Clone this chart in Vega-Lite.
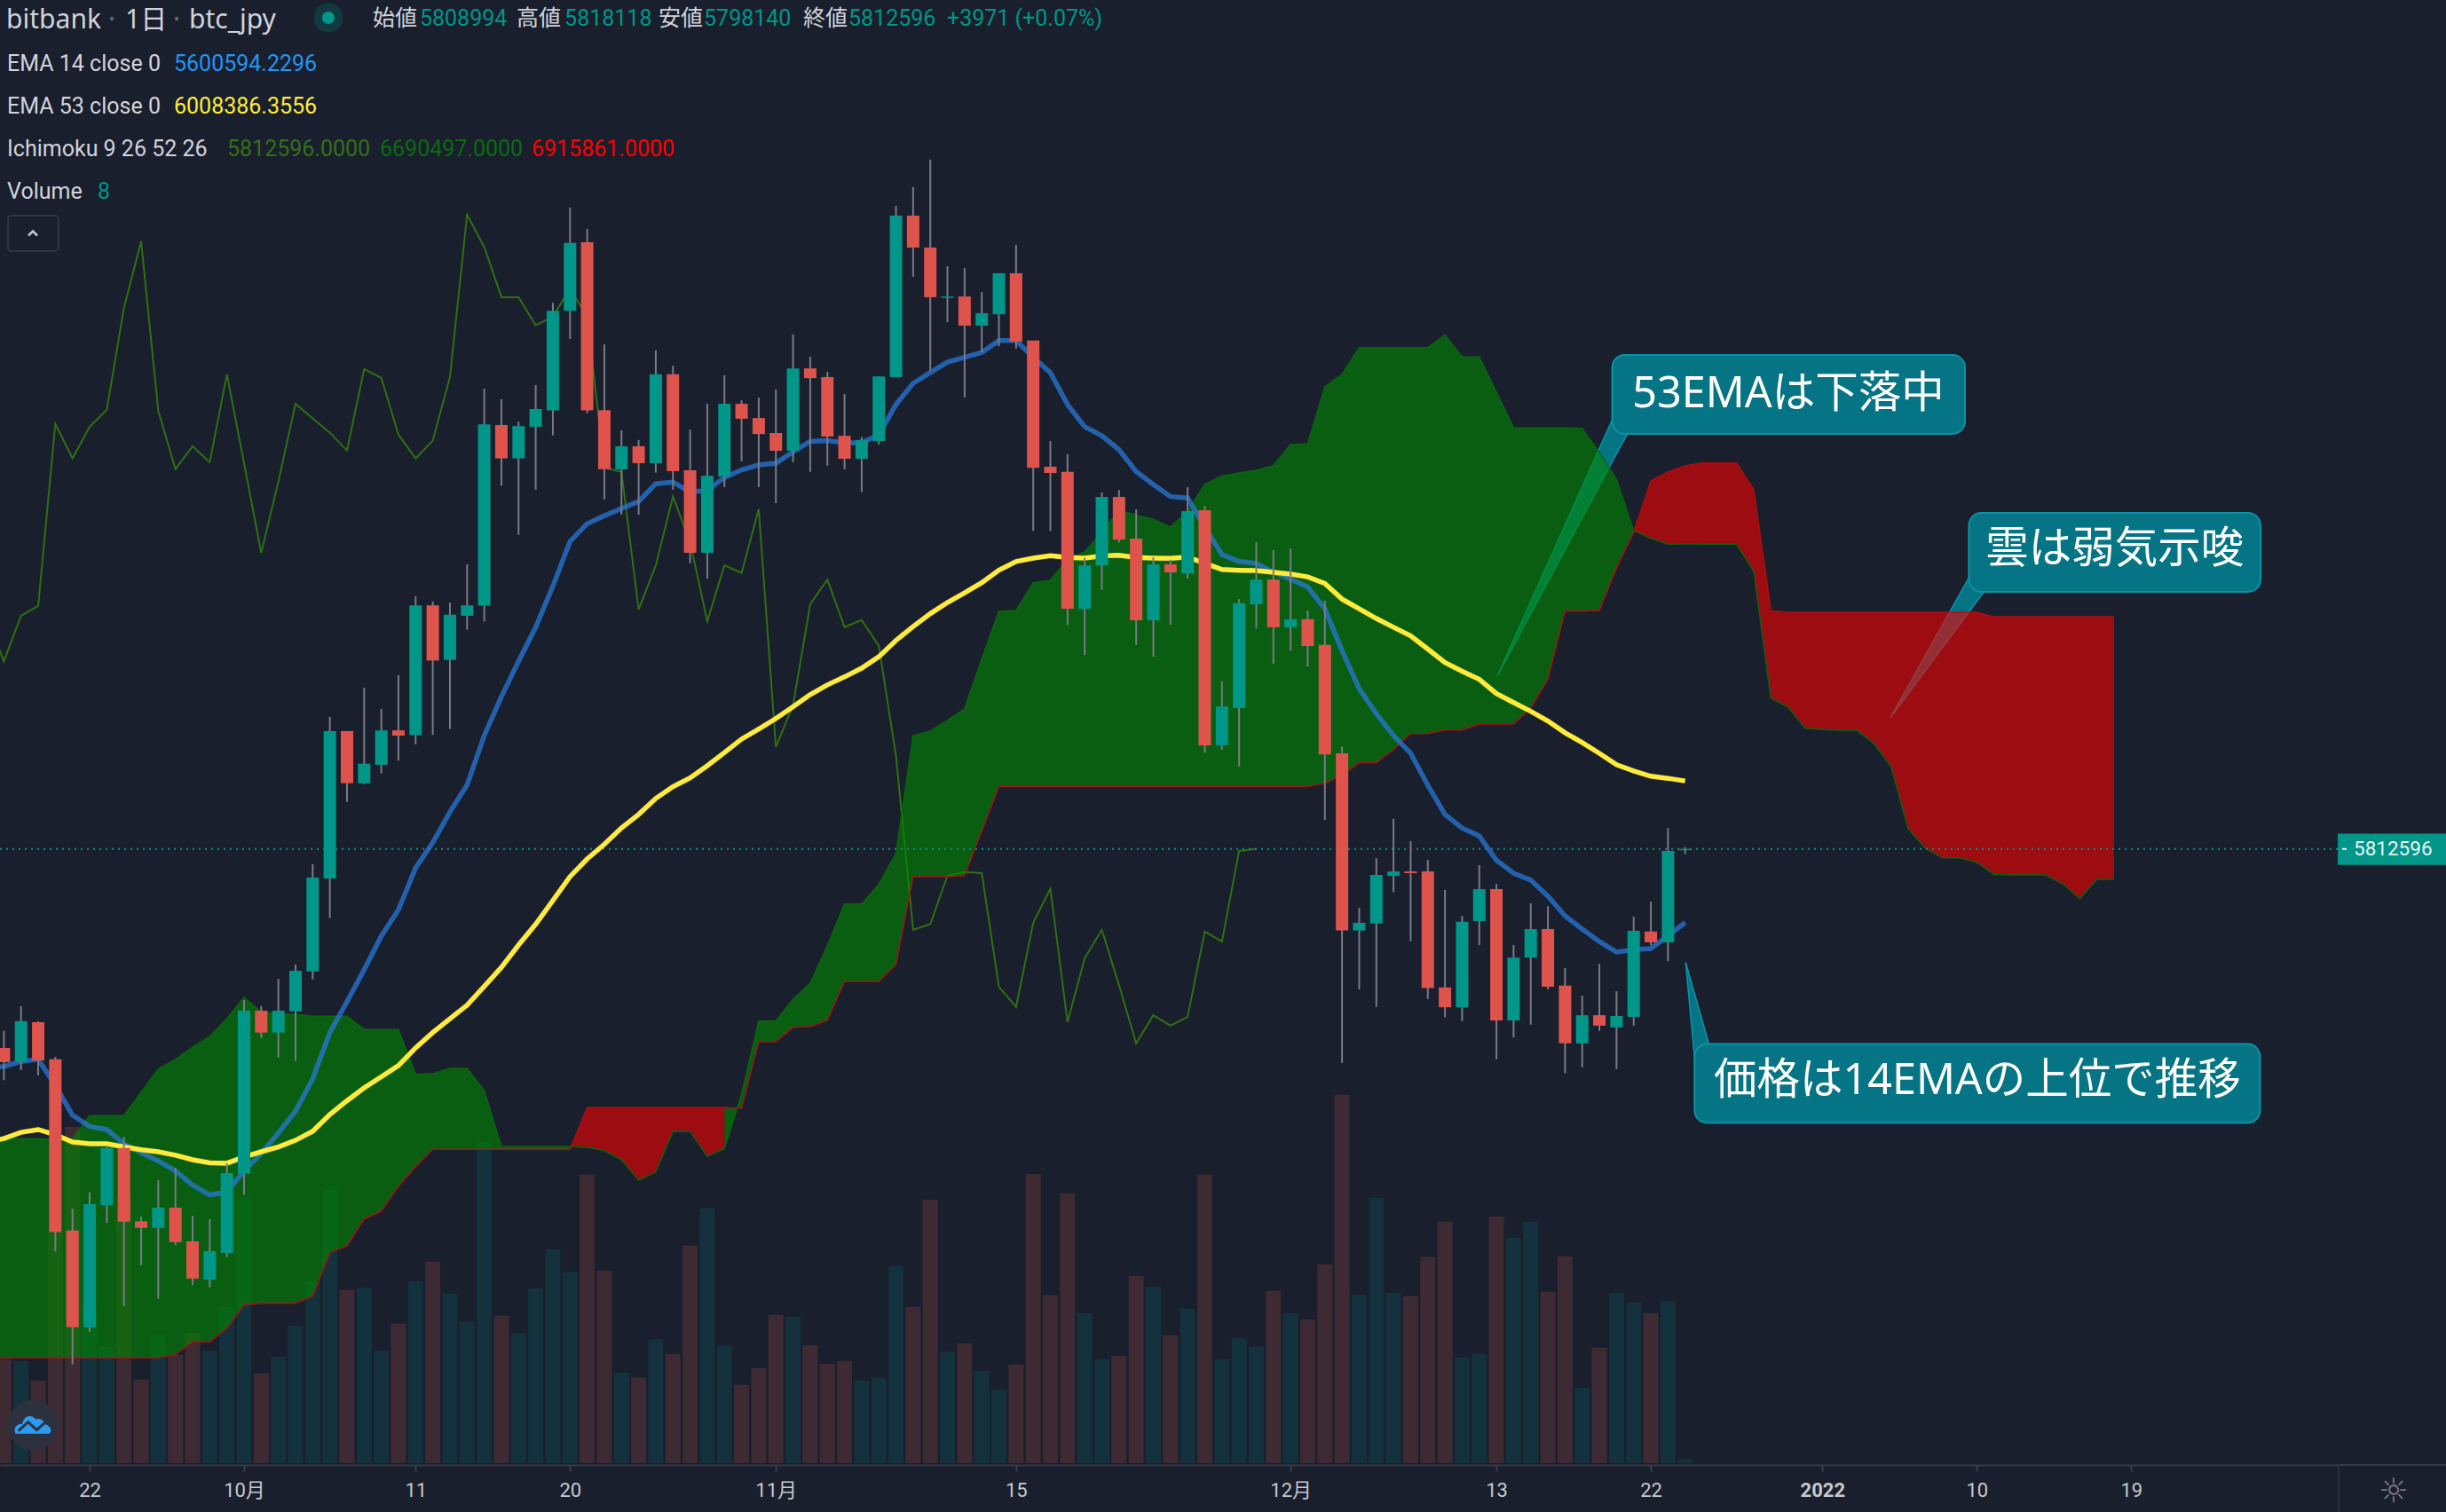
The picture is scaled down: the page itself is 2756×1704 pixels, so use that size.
{"$schema":"https://vega.github.io/schema/vega-lite/v6.json","width":2635,"height":1651,"autosize":{"type":"none"},"padding":{"left":0,"top":0,"right":121,"bottom":53},"background":"#191f2c","config":{"view":{"stroke":null}},
"datasets":{"daily":[
{"date":"2021-09-16","ema14":5183000,"ema53":4969000,"chikou":6480000},
{"date":"2021-09-17","open":5240000,"high":5289000,"low":5147000,"close":5199000,"volume":218,"ema14":5186000,"ema53":4979000,"chikou":6353000},
{"date":"2021-09-18","open":5201000,"high":5360000,"low":5176000,"close":5317000,"volume":214,"ema14":5201000,"ema53":4997000,"chikou":6484000},
{"date":"2021-09-19","open":5314000,"high":5317000,"low":5161000,"close":5204000,"volume":173,"ema14":5207000,"ema53":5005000,"chikou":6512000},
{"date":"2021-09-20","open":5207000,"high":5214000,"low":4654000,"close":4710000,"volume":484,"ema14":5132000,"ema53":4990000,"chikou":7036000},
{"date":"2021-09-21","open":4714000,"high":4777000,"low":4329000,"close":4436000,"volume":705,"ema14":5046000,"ema53":4969000,"chikou":6937000},
{"date":"2021-09-22","open":4436000,"high":4824000,"low":4423000,"close":4790000,"volume":329,"ema14":5014000,"ema53":4964000,"chikou":7028000},
{"date":"2021-09-23","open":4788000,"high":4958000,"low":4736000,"close":4952000,"volume":244,"ema14":5005000,"ema53":4964000,"chikou":7077000},
{"date":"2021-09-24","open":4952000,"high":4984000,"low":4497000,"close":4740000,"volume":562,"ema14":4964000,"ema53":4955000,"chikou":7371000},
{"date":"2021-09-25","open":4741000,"high":4754000,"low":4614000,"close":4722000,"volume":175,"ema14":4938000,"ema53":4947000,"chikou":7562000},
{"date":"2021-09-26","open":4722000,"high":4859000,"low":4517000,"close":4780000,"volume":268,"ema14":4915000,"ema53":4941000,"chikou":7074000},
{"date":"2021-09-27","open":4780000,"high":4895000,"low":4672000,"close":4681000,"volume":227,"ema14":4886000,"ema53":4931000,"chikou":6906000},
{"date":"2021-09-28","open":4683000,"high":4757000,"low":4558000,"close":4576000,"volume":272,"ema14":4845000,"ema53":4918000,"chikou":6972000},
{"date":"2021-09-29","open":4573000,"high":4747000,"low":4551000,"close":4655000,"volume":236,"ema14":4817000,"ema53":4909000,"chikou":6926000},
{"date":"2021-09-30","open":4650000,"high":4908000,"low":4637000,"close":4880000,"volume":327,"ema14":4825000,"ema53":4908000,"chikou":7179000},
{"date":"2021-10-01","open":4878000,"high":5378000,"low":4817000,"close":5347000,"volume":558,"ema14":4886000,"ema53":4926000,"chikou":6923000},
{"date":"2021-10-02","open":5347000,"high":5361000,"low":5269000,"close":5284000,"volume":188,"ema14":4936000,"ema53":4941000,"chikou":6665000},
{"date":"2021-10-03","open":5284000,"high":5439000,"low":5212000,"close":5347000,"volume":223,"ema14":4995000,"ema53":4955000,"chikou":6870000},
{"date":"2021-10-04","open":5345000,"high":5480000,"low":5203000,"close":5462000,"volume":288,"ema14":5058000,"ema53":4974000,"chikou":7094000},
{"date":"2021-10-05","open":5460000,"high":5769000,"low":5437000,"close":5730000,"volume":381,"ema14":5151000,"ema53":5000000,"chikou":7052000},
{"date":"2021-10-06","open":5728000,"high":6193000,"low":5614000,"close":6152000,"volume":573,"ema14":5284000,"ema53":5048000,"chikou":7011000},
{"date":"2021-10-07","open":6152000,"high":6152000,"low":5948000,"close":6002000,"volume":363,"ema14":5373000,"ema53":5088000,"chikou":6960000},
{"date":"2021-10-08","open":6002000,"high":6277000,"low":5999000,"close":6058000,"volume":368,"ema14":5465000,"ema53":5125000,"chikou":7194000},
{"date":"2021-10-09","open":6055000,"high":6216000,"low":6030000,"close":6154000,"volume":236,"ema14":5562000,"ema53":5157000,"chikou":7169000},
{"date":"2021-10-10","open":6154000,"high":6313000,"low":6067000,"close":6139000,"volume":292,"ema14":5638000,"ema53":5189000,"chikou":7005000},
{"date":"2021-10-11","open":6140000,"high":6540000,"low":6114000,"close":6514000,"volume":381,"ema14":5758000,"ema53":5240000,"chikou":6937000},
{"date":"2021-10-12","open":6514000,"high":6525000,"low":6141000,"close":6355000,"volume":422,"ema14":5831000,"ema53":5284000,"chikou":6988000},
{"date":"2021-10-13","open":6357000,"high":6522000,"low":6158000,"close":6487000,"volume":355,"ema14":5919000,"ema53":5324000,"chikou":7171000},
{"date":"2021-10-14","open":6484000,"high":6632000,"low":6444000,"close":6514000,"volume":296,"ema14":5997000,"ema53":5363000,"chikou":7638000},
{"date":"2021-10-15","open":6513000,"high":7138000,"low":6467000,"close":7035000,"volume":673,"ema14":6139000,"ema53":5417000,"chikou":7546000},
{"date":"2021-10-16","open":7033000,"high":7107000,"low":6858000,"close":6937000,"volume":309,"ema14":6251000,"ema53":5472000,"chikou":7401000},
{"date":"2021-10-17","open":6937000,"high":7043000,"low":6717000,"close":7030000,"volume":272,"ema14":6353000,"ema53":5536000,"chikou":7401000},
{"date":"2021-10-18","open":7028000,"high":7148000,"low":6847000,"close":7079000,"volume":366,"ema14":6451000,"ema53":5596000,"chikou":7320000},
{"date":"2021-10-19","open":7075000,"high":7385000,"low":7003000,"close":7362000,"volume":448,"ema14":6569000,"ema53":5664000,"chikou":7345000},
{"date":"2021-10-20","open":7362000,"high":7659000,"low":7281000,"close":7557000,"volume":400,"ema14":6698000,"ema53":5733000,"chikou":7426000},
{"date":"2021-10-21","open":7559000,"high":7598000,"low":7067000,"close":7075000,"volume":605,"ema14":6749000,"ema53":5784000,"chikou":7345000},
{"date":"2021-10-22","open":7076000,"high":7265000,"low":6819000,"close":6906000,"volume":404,"ema14":6772000,"ema53":5826000,"chikou":6910000},
{"date":"2021-10-23","open":6905000,"high":7018000,"low":6775000,"close":6972000,"volume":190,"ema14":6793000,"ema53":5873000,"chikou":6898000},
{"date":"2021-10-24","open":6972000,"high":6990000,"low":6775000,"close":6923000,"volume":179,"ema14":6813000,"ema53":5912000,"chikou":6502000},
{"date":"2021-10-25","open":6923000,"high":7248000,"low":6896000,"close":7179000,"volume":259,"ema14":6864000,"ema53":5958000,"chikou":6629000},
{"date":"2021-10-26","open":7179000,"high":7204000,"low":6847000,"close":6900000,"volume":229,"ema14":6869000,"ema53":5992000,"chikou":6827000},
{"date":"2021-10-27","open":6903000,"high":7020000,"low":6635000,"close":6665000,"volume":456,"ema14":6840000,"ema53":6017000,"chikou":6696000},
{"date":"2021-10-28","open":6665000,"high":7094000,"low":6591000,"close":6887000,"volume":534,"ema14":6845000,"ema53":6052000,"chikou":6468000},
{"date":"2021-10-29","open":6885000,"high":7176000,"low":6854000,"close":7094000,"volume":246,"ema14":6882000,"ema53":6090000,"chikou":6629000},
{"date":"2021-10-30","open":7094000,"high":7104000,"low":6928000,"close":7051000,"volume":164,"ema14":6904000,"ema53":6129000,"chikou":6607000},
{"date":"2021-10-31","open":7053000,"high":7112000,"low":6854000,"close":7007000,"volume":199,"ema14":6918000,"ema53":6158000,"chikou":6791000},
{"date":"2021-11-01","open":7010000,"high":7135000,"low":6808000,"close":6959000,"volume":311,"ema14":6923000,"ema53":6188000,"chikou":6106000},
{"date":"2021-11-02","open":6959000,"high":7294000,"low":6926000,"close":7196000,"volume":307,"ema14":6956000,"ema53":6222000,"chikou":6226000},
{"date":"2021-11-03","open":7196000,"high":7230000,"low":6898000,"close":7168000,"volume":247,"ema14":6986000,"ema53":6257000,"chikou":6517000},
{"date":"2021-11-04","open":7171000,"high":7186000,"low":6916000,"close":7000000,"volume":208,"ema14":6988000,"ema53":6285000,"chikou":6588000},
{"date":"2021-11-05","open":7002000,"high":7122000,"low":6905000,"close":6936000,"volume":214,"ema14":6982000,"ema53":6308000,"chikou":6451000},
{"date":"2021-11-06","open":6936000,"high":6999000,"low":6840000,"close":6990000,"volume":173,"ema14":6982000,"ema53":6333000,"chikou":6472000},
{"date":"2021-11-07","open":6987000,"high":7173000,"low":6977000,"close":7173000,"volume":179,"ema14":7005000,"ema53":6366000,"chikou":6397000},
{"date":"2021-11-08","open":7171000,"high":7664000,"low":7171000,"close":7636000,"volume":413,"ema14":7092000,"ema53":6413000,"chikou":6081000},
{"date":"2021-11-09","open":7636000,"high":7718000,"low":7460000,"close":7544000,"volume":327,"ema14":7153000,"ema53":6453000,"chikou":5580000},
{"date":"2021-11-10","open":7544000,"high":7797000,"low":7189000,"close":7401000,"volume":552,"ema14":7184000,"ema53":6490000,"chikou":5596000},
{"date":"2021-11-11","open":7399000,"high":7490000,"low":7329000,"close":7403000,"volume":233,"ema14":7214000,"ema53":6522000,"chikou":5736000},
{"date":"2021-11-12","open":7403000,"high":7485000,"low":7112000,"close":7319000,"volume":251,"ema14":7228000,"ema53":6550000,"chikou":5746000},
{"date":"2021-11-13","open":7319000,"high":7416000,"low":7242000,"close":7355000,"volume":193,"ema14":7242000,"ema53":6579000,"chikou":5743000},
{"date":"2021-11-14","open":7352000,"high":7470000,"low":7260000,"close":7470000,"volume":153,"ema14":7276000,"ema53":6615000,"chikou":5416000},
{"date":"2021-11-15","open":7470000,"high":7552000,"low":7253000,"close":7273000,"volume":206,"ema14":7276000,"ema53":6640000,"chikou":5358000},
{"date":"2021-11-16","open":7276000,"high":7276000,"low":6728000,"close":6910000,"volume":606,"ema14":7228000,"ema53":6650000,"chikou":5600000},
{"date":"2021-11-17","open":6913000,"high":6987000,"low":6728000,"close":6895000,"volume":352,"ema14":7184000,"ema53":6657000,"chikou":5698000},
{"date":"2021-11-18","open":6898000,"high":6949000,"low":6457000,"close":6504000,"volume":565,"ema14":7092000,"ema53":6652000,"chikou":5314000},
{"date":"2021-11-19","open":6504000,"high":6650000,"low":6371000,"close":6629000,"volume":314,"ema14":7028000,"ema53":6650000,"chikou":5498000},
{"date":"2021-11-20","open":6629000,"high":6839000,"low":6558000,"close":6826000,"volume":218,"ema14":7002000,"ema53":6656000,"chikou":5580000},
{"date":"2021-11-21","open":6826000,"high":6846000,"low":6694000,"close":6703000,"volume":225,"ema14":6962000,"ema53":6658000,"chikou":5421000},
{"date":"2021-11-22","open":6706000,"high":6790000,"low":6400000,"close":6471000,"volume":392,"ema14":6899000,"ema53":6652000,"chikou":5253000},
{"date":"2021-11-23","open":6471000,"high":6652000,"low":6366000,"close":6632000,"volume":370,"ema14":6862000,"ema53":6650000,"chikou":5334000},
{"date":"2021-11-24","open":6632000,"high":6645000,"low":6458000,"close":6609000,"volume":268,"ema14":6827000,"ema53":6649000,"chikou":5304000},
{"date":"2021-11-25","open":6606000,"high":6854000,"low":6591000,"close":6785000,"volume":324,"ema14":6823000,"ema53":6653000,"chikou":5329000},
{"date":"2021-11-26","open":6788000,"high":6800000,"low":6090000,"close":6111000,"volume":605,"ema14":6739000,"ema53":6635000,"chikou":5575000},
{"date":"2021-11-27","open":6111000,"high":6295000,"low":6099000,"close":6223000,"volume":218,"ema14":6660000,"ema53":6617000,"chikou":5546000},
{"date":"2021-11-28","open":6218000,"high":6532000,"low":6050000,"close":6520000,"volume":262,"ema14":6640000,"ema53":6615000,"chikou":5807000},
{"date":"2021-11-29","open":6517000,"high":6696000,"low":6447000,"close":6588000,"volume":244,"ema14":6635000,"ema53":6614000,"chikou":5812596},
{"date":"2021-11-30","open":6588000,"high":6673000,"low":6346000,"close":6451000,"volume":361,"ema14":6610000,"ema53":6609000},
{"date":"2021-12-01","open":6451000,"high":6678000,"low":6383000,"close":6474000,"volume":314,"ema14":6589000,"ema53":6604000},
{"date":"2021-12-02","open":6474000,"high":6499000,"low":6338000,"close":6397000,"volume":301,"ema14":6567000,"ema53":6596000},
{"date":"2021-12-03","open":6400000,"high":6527000,"low":5896000,"close":6085000,"volume":417,"ema14":6504000,"ema53":6577000},
{"date":"2021-12-04","open":6088000,"high":6108000,"low":5197000,"close":5578000,"volume":772,"ema14":6384000,"ema53":6532000},
{"date":"2021-12-05","open":5578000,"high":5643000,"low":5408000,"close":5600000,"volume":353,"ema14":6274000,"ema53":6504000},
{"date":"2021-12-06","open":5598000,"high":5786000,"low":5358000,"close":5738000,"volume":556,"ema14":6202000,"ema53":6476000},
{"date":"2021-12-07","open":5735000,"high":5899000,"low":5688000,"close":5748000,"volume":357,"ema14":6139000,"ema53":6451000},
{"date":"2021-12-08","open":5748000,"high":5835000,"low":5547000,"close":5743000,"volume":350,"ema14":6088000,"ema53":6426000},
{"date":"2021-12-09","open":5748000,"high":5781000,"low":5381000,"close":5412000,"volume":432,"ema14":5996000,"ema53":6388000},
{"date":"2021-12-10","open":5414000,"high":5695000,"low":5328000,"close":5357000,"volume":506,"ema14":5912000,"ema53":6349000},
{"date":"2021-12-11","open":5357000,"high":5620000,"low":5317000,"close":5603000,"volume":221,"ema14":5873000,"ema53":6324000},
{"date":"2021-12-12","open":5605000,"high":5766000,"low":5536000,"close":5697000,"volume":229,"ema14":5850000,"ema53":6301000},
{"date":"2021-12-13","open":5697000,"high":5712000,"low":5207000,"close":5319000,"volume":517,"ema14":5780000,"ema53":6260000},
{"date":"2021-12-14","open":5319000,"high":5536000,"low":5270000,"close":5500000,"volume":472,"ema14":5743000,"ema53":6234000},
{"date":"2021-12-15","open":5500000,"high":5656000,"low":5307000,"close":5582000,"volume":506,"ema14":5723000,"ema53":6209000},
{"date":"2021-12-16","open":5582000,"high":5648000,"low":5408000,"close":5416000,"volume":359,"ema14":5677000,"ema53":6181000},
{"date":"2021-12-17","open":5419000,"high":5470000,"low":5167000,"close":5253000,"volume":433,"ema14":5620000,"ema53":6147000},
{"date":"2021-12-18","open":5253000,"high":5390000,"low":5184000,"close":5334000,"volume":158,"ema14":5582000,"ema53":6119000},
{"date":"2021-12-19","open":5334000,"high":5482000,"low":5289000,"close":5304000,"volume":242,"ema14":5546000,"ema53":6088000},
{"date":"2021-12-20","open":5299000,"high":5403000,"low":5179000,"close":5332000,"volume":357,"ema14":5516000,"ema53":6055000},
{"date":"2021-12-21","open":5329000,"high":5618000,"low":5304000,"close":5577000,"volume":337,"ema14":5523000,"ema53":6037000},
{"date":"2021-12-22","open":5575000,"high":5661000,"low":5536000,"close":5544000,"volume":314,"ema14":5526000,"ema53":6022000},
{"date":"2021-12-23","open":5544000,"high":5873000,"low":5490000,"close":5807000,"volume":339,"ema14":5563000,"ema53":6016000},
{"date":"2021-12-24","open":5808994,"high":5818118,"low":5798140,"close":5812596,"volume":8,"ema14":5600594,"ema53":6008386}
],
"cloud":[
{"date":"2021-09-16","spanA":4979000,"spanB":4348000,"seg":"g1"},{"date":"2021-09-17","spanA":4979000,"spanB":4348000,"seg":"g1"},{"date":"2021-09-18","spanA":4979000,"spanB":4348000,"seg":"g1"},{"date":"2021-09-19","spanA":4979000,"spanB":4348000,"seg":"g1"},{"date":"2021-09-20","spanA":4977000,"spanB":4348000,"seg":"g1"},{"date":"2021-09-21","spanA":4979000,"spanB":4348000,"seg":"g1"},{"date":"2021-09-22","spanA":5045000,"spanB":4348000,"seg":"g1"},{"date":"2021-09-23","spanA":5045000,"spanB":4348000,"seg":"g1"},{"date":"2021-09-24","spanA":5045000,"spanB":4348000,"seg":"g1"},{"date":"2021-09-25","spanA":5112000,"spanB":4348000,"seg":"g1"},{"date":"2021-09-26","spanA":5179000,"spanB":4348000,"seg":"g1"},{"date":"2021-09-27","spanA":5207000,"spanB":4357000,"seg":"g1"},{"date":"2021-09-28","spanA":5242000,"spanB":4394000,"seg":"g1"},{"date":"2021-09-29","spanA":5273000,"spanB":4394000,"seg":"g1"},{"date":"2021-09-30","spanA":5324000,"spanB":4433000,"seg":"g1"},{"date":"2021-10-01","spanA":5385000,"spanB":4500000,"seg":"g1"},{"date":"2021-10-02","spanA":5344000,"spanB":4505000,"seg":"g1"},{"date":"2021-10-03","spanA":5338000,"spanB":4505000,"seg":"g1"},{"date":"2021-10-04","spanA":5337000,"spanB":4505000,"seg":"g1"},{"date":"2021-10-05","spanA":5331000,"spanB":4525000,"seg":"g1"},{"date":"2021-10-06","spanA":5331000,"spanB":4650000,"seg":"g1"},{"date":"2021-10-07","spanA":5331000,"spanB":4670000,"seg":"g1"},{"date":"2021-10-08","spanA":5293000,"spanB":4747000,"seg":"g1"},{"date":"2021-10-09","spanA":5293000,"spanB":4770000,"seg":"g1"},{"date":"2021-10-10","spanA":5293000,"spanB":4841000,"seg":"g1"},{"date":"2021-10-11","spanA":5164000,"spanB":4898000,"seg":"g1"},{"date":"2021-10-12","spanA":5166000,"spanB":4948000,"seg":"g1"},{"date":"2021-10-13","spanA":5181000,"spanB":4948000,"seg":"g1"},{"date":"2021-10-14","spanA":5181000,"spanB":4948000,"seg":"g1"},{"date":"2021-10-15","spanA":5117000,"spanB":4948000,"seg":"g1"},{"date":"2021-10-16","spanA":4956000,"spanB":4948000,"seg":"g1"},{"date":"2021-10-17","spanA":4956000,"spanB":4948000,"seg":"g1"},{"date":"2021-10-18","spanA":4956000,"spanB":4948000,"seg":"g1"},{"date":"2021-10-19","spanA":4956000,"spanB":4948000,"seg":"g1"},{"date":"2021-10-20","spanA":4956000,"spanB":4948000,"seg":"g1"},
{"date":"2021-10-20","spanA":4956000,"spanB":4948000,"seg":"r1"},{"date":"2021-10-21","spanA":4954000,"spanB":5068000,"seg":"r1"},{"date":"2021-10-22","spanA":4944000,"spanB":5068000,"seg":"r1"},{"date":"2021-10-23","spanA":4918000,"spanB":5068000,"seg":"r1"},{"date":"2021-10-24","spanA":4859000,"spanB":5068000,"seg":"r1"},{"date":"2021-10-25","spanA":4883000,"spanB":5068000,"seg":"r1"},{"date":"2021-10-26","spanA":5000000,"spanB":5068000,"seg":"r1"},{"date":"2021-10-27","spanA":5000000,"spanB":5068000,"seg":"r1"},{"date":"2021-10-28","spanA":4928000,"spanB":5068000,"seg":"r1"},{"date":"2021-10-29","spanA":4950000,"spanB":5068000,"seg":"r1"},
{"date":"2021-10-29","spanA":4950000,"spanB":5068000,"seg":"g2"},{"date":"2021-10-30","spanA":5107000,"spanB":5066000,"seg":"g2"},{"date":"2021-10-31","spanA":5317000,"spanB":5258000,"seg":"g2"},{"date":"2021-11-01","spanA":5317000,"spanB":5258000,"seg":"g2"},{"date":"2021-11-02","spanA":5380000,"spanB":5299000,"seg":"g2"},{"date":"2021-11-03","spanA":5426000,"spanB":5301000,"seg":"g2"},{"date":"2021-11-04","spanA":5534000,"spanB":5319000,"seg":"g2"},{"date":"2021-11-05","spanA":5654000,"spanB":5431000,"seg":"g2"},{"date":"2021-11-06","spanA":5654000,"spanB":5431000,"seg":"g2"},{"date":"2021-11-07","spanA":5711000,"spanB":5431000,"seg":"g2"},{"date":"2021-11-08","spanA":5800000,"spanB":5480000,"seg":"g2"},{"date":"2021-11-09","spanA":6139000,"spanB":5733000,"seg":"g2"},{"date":"2021-11-10","spanA":6152000,"spanB":5733000,"seg":"g2"},{"date":"2021-11-11","spanA":6183000,"spanB":5733000,"seg":"g2"},{"date":"2021-11-12","spanA":6216000,"spanB":5736000,"seg":"g2"},{"date":"2021-11-13","spanA":6359000,"spanB":5864000,"seg":"g2"},{"date":"2021-11-14","spanA":6497000,"spanB":5992000,"seg":"g2"},{"date":"2021-11-15","spanA":6499000,"spanB":5992000,"seg":"g2"},{"date":"2021-11-16","spanA":6579000,"spanB":5992000,"seg":"g2"},{"date":"2021-11-17","spanA":6586000,"spanB":5992000,"seg":"g2"},{"date":"2021-11-18","spanA":6647000,"spanB":5992000,"seg":"g2"},{"date":"2021-11-19","spanA":6668000,"spanB":5992000,"seg":"g2"},{"date":"2021-11-20","spanA":6724000,"spanB":5992000,"seg":"g2"},{"date":"2021-11-21","spanA":6788000,"spanB":5992000,"seg":"g2"},{"date":"2021-11-22","spanA":6774000,"spanB":5992000,"seg":"g2"},{"date":"2021-11-23","spanA":6762000,"spanB":5992000,"seg":"g2"},{"date":"2021-11-24","spanA":6739000,"spanB":5992000,"seg":"g2"},{"date":"2021-11-25","spanA":6785000,"spanB":5992000,"seg":"g2"},{"date":"2021-11-26","spanA":6862000,"spanB":5992000,"seg":"g2"},{"date":"2021-11-27","spanA":6886000,"spanB":5992000,"seg":"g2"},{"date":"2021-11-28","spanA":6895000,"spanB":5992000,"seg":"g2"},{"date":"2021-11-29","spanA":6903000,"spanB":5992000,"seg":"g2"},{"date":"2021-11-30","spanA":6916000,"spanB":5992000,"seg":"g2"},{"date":"2021-12-01","spanA":6977000,"spanB":5992000,"seg":"g2"},{"date":"2021-12-02","spanA":6979000,"spanB":5992000,"seg":"g2"},{"date":"2021-12-03","spanA":7143000,"spanB":6002000,"seg":"g2"},{"date":"2021-12-04","spanA":7179000,"spanB":6024000,"seg":"g2"},{"date":"2021-12-05","spanA":7256000,"spanB":6061000,"seg":"g2"},{"date":"2021-12-06","spanA":7256000,"spanB":6061000,"seg":"g2"},{"date":"2021-12-07","spanA":7256000,"spanB":6098000,"seg":"g2"},{"date":"2021-12-08","spanA":7256000,"spanB":6145000,"seg":"g2"},{"date":"2021-12-09","spanA":7256000,"spanB":6145000,"seg":"g2"},{"date":"2021-12-10","spanA":7292000,"spanB":6155000,"seg":"g2"},{"date":"2021-12-11","spanA":7229000,"spanB":6155000,"seg":"g2"},{"date":"2021-12-12","spanA":7229000,"spanB":6172000,"seg":"g2"},{"date":"2021-12-13","spanA":7128000,"spanB":6172000,"seg":"g2"},{"date":"2021-12-14","spanA":7025000,"spanB":6172000,"seg":"g2"},{"date":"2021-12-15","spanA":7025000,"spanB":6218000,"seg":"g2"},{"date":"2021-12-16","spanA":7025000,"spanB":6302000,"seg":"g2"},{"date":"2021-12-17","spanA":7025000,"spanB":6497000,"seg":"g2"},{"date":"2021-12-18","spanA":7023000,"spanB":6497000,"seg":"g2"},{"date":"2021-12-19","spanA":6954000,"spanB":6499000,"seg":"g2"},{"date":"2021-12-20","spanA":6877000,"spanB":6622000,"seg":"g2"},{"date":"2021-12-21","spanA":6729000,"spanB":6724000,"seg":"g2"},
{"date":"2021-12-21","spanA":6729000,"spanB":6724000,"seg":"r2"},{"date":"2021-12-22","spanA":6707000,"spanB":6872000,"seg":"r2"},{"date":"2021-12-23","spanA":6690000,"spanB":6898000,"seg":"r2"},{"date":"2021-12-24","spanA":6690497,"spanB":6915861,"seg":"r2"},{"date":"2021-12-25","spanA":6690000,"spanB":6924000,"seg":"r2"},{"date":"2021-12-26","spanA":6690000,"spanB":6924000,"seg":"r2"},{"date":"2021-12-27","spanA":6690000,"spanB":6924000,"seg":"r2"},{"date":"2021-12-28","spanA":6611000,"spanB":6847000,"seg":"r2"},{"date":"2021-12-29","spanA":6247000,"spanB":6498000,"seg":"r2"},{"date":"2021-12-30","spanA":6221000,"spanB":6494000,"seg":"r2"},{"date":"2021-12-31","spanA":6160000,"spanB":6494000,"seg":"r2"},{"date":"2022-01-01","spanA":6157000,"spanB":6494000,"seg":"r2"},{"date":"2022-01-02","spanA":6154000,"spanB":6494000,"seg":"r2"},{"date":"2022-01-03","spanA":6154000,"spanB":6494000,"seg":"r2"},{"date":"2022-01-04","spanA":6117000,"spanB":6494000,"seg":"r2"},{"date":"2022-01-05","spanA":6050000,"spanB":6494000,"seg":"r2"},{"date":"2022-01-06","spanA":5871000,"spanB":6494000,"seg":"r2"},{"date":"2022-01-07","spanA":5815000,"spanB":6494000,"seg":"r2"},{"date":"2022-01-08","spanA":5787000,"spanB":6494000,"seg":"r2"},{"date":"2022-01-09","spanA":5787000,"spanB":6494000,"seg":"r2"},{"date":"2022-01-10","spanA":5774000,"spanB":6494000,"seg":"r2"},{"date":"2022-01-11","spanA":5740000,"spanB":6481000,"seg":"r2"},{"date":"2022-01-12","spanA":5738000,"spanB":6481000,"seg":"r2"},{"date":"2022-01-13","spanA":5738000,"spanB":6481000,"seg":"r2"},{"date":"2022-01-14","spanA":5738000,"spanB":6481000,"seg":"r2"},{"date":"2022-01-15","spanA":5713000,"spanB":6481000,"seg":"r2"},{"date":"2022-01-16","spanA":5670000,"spanB":6481000,"seg":"r2"},{"date":"2022-01-17","spanA":5725000,"spanB":6481000,"seg":"r2"},{"date":"2022-01-18","spanA":5725000,"spanB":6481000,"seg":"r2"}
]},
"encoding":{"x":{"field":"date","type":"temporal","title":null,"scale":{"type":"utc","padding":0,"domain":["2021-09-16T18:34:00Z","2022-01-31T02:10:00Z"]},"axis":{"orient":"bottom","values":["2021-09-22T00:00:00Z","2021-10-01T00:00:00Z","2021-10-11T00:00:00Z","2021-10-20T00:00:00Z","2021-11-01T00:00:00Z","2021-11-15T00:00:00Z","2021-12-01T00:00:00Z","2021-12-13T00:00:00Z","2021-12-22T00:00:00Z","2022-01-01T00:00:00Z","2022-01-10T00:00:00Z","2022-01-19T00:00:00Z"],"labelExpr":"utcdate(datum.value)==1 ? (utcmonth(datum.value)==0 ? '2022' : (utcmonth(datum.value)+1)+'月') : ''+utcdate(datum.value)","labelFont":"Roboto, Noto Sans CJK JP","labelFontSize":22,"labelColor":"#c8c9cc","labelFontWeight":{"condition":{"test":"datum.label=='2022'","value":"bold"},"value":"normal"},"labelPadding":11,"labelOverlap":false,"labelFlush":false,"tickColor":"#3a3f4c","tickSize":7,"tickWidth":2,"domainColor":"#363a45","domainWidth":2,"grid":false}}},
"resolve":{"scale":{"y":"independent"}},
"layer":[
{"data":{"name":"daily"},"mark":{"type":"bar","size":17,"clip":true},"encoding":{"y":{"field":"volume","type":"quantitative","axis":null,"scale":{"domain":[-4,3067],"nice":false}},"color":{"condition":{"test":"datum.close>=datum.open","value":"#14323d"},"value":"#3e2a33"}}},
{"layer":[
{"data":{"name":"daily"},"mark":{"type":"line","color":"#2f7013","strokeWidth":2,"clip":true},"encoding":{"y":{"field":"chikou","type":"quantitative","scale":{"domain":[4039336,8256513],"nice":false,"zero":false},"title":null,"axis":{"orient":"right","values":[4200000,4400000,4600000,4800000,5000000,5200000,5400000,5600000,5800000,6000000,6200000,6400000,6600000,6800000,7000000,7200000,7400000,7600000,7800000,8000000,8200000],"format":"d","labelFont":"Roboto","labelFontSize":22.5,"labelColor":"#c8c9cc","labelPadding":8,"tickSize":9,"tickColor":"#2f3442","tickWidth":2,"domainColor":"#2a2f3c","domainWidth":2,"grid":false,"labelOverlap":false}}}},
{"data":{"values":[{"date":"2021-12-13T01:12:00Z","top":6310136,"bottom":6310136},{"date":"2021-12-19T18:00:00Z","top":7048329,"bottom":6927000},{"date":"2021-12-20T15:07:00Z","top":7007460,"bottom":7007460}]},"mark":{"type":"area","color":"#057484","stroke":"#0a93a8","strokeWidth":1.5},"encoding":{"y":{"field":"top","type":"quantitative","stack":null,"axis":null,"scale":{"domain":[4039336,8256513],"nice":false,"zero":false}},"y2":{"field":"bottom"}}},
{"data":{"values":[{"date":"2022-01-04T23:17:00Z","top":6190851,"bottom":6190851},{"date":"2022-01-09T12:58:00Z","top":6593919,"bottom":6494557},{"date":"2022-01-10T09:50:00Z","top":6552795,"bottom":6552795}]},"mark":{"type":"area","color":"#057484","stroke":"#0a93a8","strokeWidth":1.5},"encoding":{"y":{"field":"top","type":"quantitative","stack":null,"axis":null,"scale":{"domain":[4039336,8256513],"nice":false,"zero":false}},"y2":{"field":"bottom"}}},
{"data":{"values":[{"date":"2021-12-24T00:43:00Z","top":5486630,"bottom":5486630},{"date":"2021-12-24T13:12:00Z","top":5396208,"bottom":5209233},{"date":"2021-12-25T09:22:00Z","top":5251379,"bottom":5251379}]},"mark":{"type":"area","color":"#057484","stroke":"#0a93a8","strokeWidth":1.5},"encoding":{"y":{"field":"top","type":"quantitative","stack":null,"axis":null,"scale":{"domain":[4039336,8256513],"nice":false,"zero":false}},"y2":{"field":"bottom"}}},
{"data":{"name":"cloud"},"transform":[{"filter":"datum.seg==='g1'||datum.seg==='g2'"}],"mark":{"type":"area","color":"#008800","opacity":0.6,"clip":true},"encoding":{"detail":{"field":"seg"},"y":{"field":"spanA","type":"quantitative","stack":null,"axis":null,"scale":{"domain":[4039336,8256513],"nice":false,"zero":false}},"y2":{"field":"spanB"}}},
{"data":{"name":"cloud"},"transform":[{"filter":"datum.seg==='r1'||datum.seg==='r2'"}],"mark":{"type":"area","color":"#f40000","opacity":0.6,"clip":true},"encoding":{"detail":{"field":"seg"},"y":{"field":"spanA","type":"quantitative","stack":null,"axis":null,"scale":{"domain":[4039336,8256513],"nice":false,"zero":false}},"y2":{"field":"spanB"}}},
{"data":{"name":"cloud"},"mark":{"type":"line","color":"#0c6410","strokeWidth":1.5,"clip":true},"encoding":{"detail":{"field":"seg"},"y":{"field":"spanA","type":"quantitative","axis":null,"scale":{"domain":[4039336,8256513],"nice":false,"zero":false}}}},
{"data":{"name":"cloud"},"mark":{"type":"line","color":"#a81014","strokeWidth":1.5,"clip":true},"encoding":{"detail":{"field":"seg"},"y":{"field":"spanB","type":"quantitative","axis":null,"scale":{"domain":[4039336,8256513],"nice":false,"zero":false}}}},
{"data":{"values":[{"date":"2021-09-16T18:34:00Z","end":"2022-01-31T01:00:00Z","price":5812596}]},"mark":{"type":"rule","color":"#009688","strokeWidth":2,"strokeDash":[2,5]},"encoding":{"x2":{"field":"end"},"y":{"field":"price","type":"quantitative","axis":null,"scale":{"domain":[4039336,8256513],"nice":false,"zero":false}}}},
{"data":{"name":"daily"},"mark":{"type":"line","color":"#2878d8","opacity":0.75,"strokeWidth":5.5,"clip":true},"encoding":{"y":{"field":"ema14","type":"quantitative","axis":null,"scale":{"domain":[4039336,8256513],"nice":false,"zero":false}}}},
{"data":{"name":"daily"},"mark":{"type":"line","color":"#ffeb3b","strokeWidth":5.5,"clip":true},"encoding":{"y":{"field":"ema53","type":"quantitative","axis":null,"scale":{"domain":[4039336,8256513],"nice":false,"zero":false}}}},
{"data":{"name":"daily"},"mark":{"type":"rule","color":"#787b86","strokeWidth":2},"encoding":{"y":{"field":"low","type":"quantitative","axis":null,"scale":{"domain":[4039336,8256513],"nice":false,"zero":false}},"y2":{"field":"high"}}},
{"data":{"name":"daily"},"mark":{"type":"bar","size":14,"clip":true},"encoding":{"y":{"field":"open","type":"quantitative","axis":null,"scale":{"domain":[4039336,8256513],"nice":false,"zero":false}},"y2":{"field":"close"},"color":{"condition":{"test":"datum.close>=datum.open","value":"#009688"},"value":"#de544d"}}},
{"data":{"values":[{"date":"2021-12-19T18:00:00Z","end":"2022-01-09T07:26:00Z","top":7234793,"bottom":7007460},{"date":"2022-01-09T12:58:00Z","end":"2022-01-26T12:58:00Z","top":6780128,"bottom":6552795},{"date":"2021-12-24T13:12:00Z","end":"2022-01-26T12:14:00Z","top":5251379,"bottom":5024302}]},"mark":{"type":"bar","color":"#057484","stroke":"#0a93a8","strokeWidth":2,"cornerRadius":14},"encoding":{"x2":{"field":"end"},"y":{"field":"top","type":"quantitative","axis":null,"scale":{"domain":[4039336,8256513],"nice":false,"zero":false}},"y2":{"field":"bottom"}}},
{"data":{"values":[{"date":"2021-12-30T00:29:00Z","price":7122404,"label":"53EMAは下落中"},{"date":"2022-01-18T00:58:00Z","price":6675401,"label":"雲は弱気示唆"},{"date":"2022-01-10T00:43:00Z","price":5145000,"label":"価格は14EMAの上位で推移"}]},"mark":{"type":"text","color":"#ffffff","font":"Noto Sans, Noto Sans CJK JP","fontSize":48.5,"align":"center","baseline":"middle"},"encoding":{"text":{"field":"label"},"y":{"field":"price","type":"quantitative","axis":null,"scale":{"domain":[4039336,8256513],"nice":false,"zero":false}}}},
{"data":{"values":[{"date":"2021-09-17T03:22:00Z","price":8196487,"label":"bitbank"},{"date":"2021-09-24T01:40:00Z","price":8196487,"label":"1日"},{"date":"2021-09-27T19:02:00Z","price":8196487,"label":"btc_jpy"}]},"mark":{"type":"text","color":"#d1d4dc","font":"Noto Sans, Noto Sans CJK JP","fontSize":30,"align":"left","baseline":"middle"},"encoding":{"text":{"field":"label"},"y":{"field":"price","type":"quantitative","axis":null,"scale":{"domain":[4039336,8256513],"nice":false,"zero":false}}}},
{"data":{"values":[{"date":"2021-09-23T02:02:00Z","price":8196487,"label":"·"},{"date":"2021-09-26T20:38:00Z","price":8196487,"label":"·"}]},"mark":{"type":"text","color":"#6a6e78","font":"Noto Sans","fontSize":30,"align":"left","baseline":"middle"},"encoding":{"text":{"field":"label"},"y":{"field":"price","type":"quantitative","axis":null,"scale":{"domain":[4039336,8256513],"nice":false,"zero":false}}}},
{"data":{"values":[{"date":"2021-10-08T12:00:00Z","price":8203383,"label":"始値"},{"date":"2021-10-16T21:07:00Z","price":8203383,"label":"高値"},{"date":"2021-10-25T03:50:00Z","price":8203383,"label":"安値"},{"date":"2021-11-02T14:10:00Z","price":8203383,"label":"終値"},{"date":"2021-09-17T04:34:00Z","price":8071326,"label":"EMA 14 close 0"},{"date":"2021-09-17T04:34:00Z","price":7948720,"label":"EMA 53 close 0"},{"date":"2021-09-17T04:34:00Z","price":7826876,"label":"Ichimoku 9 26 52 26"},{"date":"2021-09-17T04:34:00Z","price":7705300,"label":"Volume"}]},"mark":{"type":"text","color":"#d1d4dc","font":"Roboto, Noto Sans CJK JP","fontSize":25,"align":"left","baseline":"middle"},"encoding":{"text":{"field":"label"},"y":{"field":"price","type":"quantitative","axis":null,"scale":{"domain":[4039336,8256513],"nice":false,"zero":false}}}},
{"data":{"values":[{"date":"2021-10-11T05:46:00Z","price":8203383,"label":"5808994"},{"date":"2021-10-19T16:19:00Z","price":8203383,"label":"5818118"},{"date":"2021-10-27T19:12:00Z","price":8203383,"label":"5798140"},{"date":"2021-11-05T05:31:00Z","price":8203383,"label":"5812596"},{"date":"2021-11-10T23:17:00Z","price":8203383,"label":"+3971 (+0.07%)"},{"date":"2021-09-22T11:08:00Z","price":7705300,"label":"8"}]},"mark":{"type":"text","color":"#009688","font":"Roboto","fontSize":25,"align":"left","baseline":"middle"},"encoding":{"text":{"field":"label"},"y":{"field":"price","type":"quantitative","axis":null,"scale":{"domain":[4039336,8256513],"nice":false,"zero":false}}}},
{"data":{"values":[{"date":"2021-09-26T21:55:00Z","price":8071326,"label":"5600594.2296"}]},"mark":{"type":"text","color":"#2196f3","font":"Roboto","fontSize":25,"align":"left","baseline":"middle"},"encoding":{"text":{"field":"label"},"y":{"field":"price","type":"quantitative","axis":null,"scale":{"domain":[4039336,8256513],"nice":false,"zero":false}}}},
{"data":{"values":[{"date":"2021-09-26T21:55:00Z","price":7948720,"label":"6008386.3556"}]},"mark":{"type":"text","color":"#ffeb3b","font":"Roboto","fontSize":25,"align":"left","baseline":"middle"},"encoding":{"text":{"field":"label"},"y":{"field":"price","type":"quantitative","axis":null,"scale":{"domain":[4039336,8256513],"nice":false,"zero":false}}}},
{"data":{"values":[{"date":"2021-09-30T00:24:00Z","price":7826876,"label":"5812596.0000"}]},"mark":{"type":"text","color":"#33701a","font":"Roboto","fontSize":25,"align":"left","baseline":"middle"},"encoding":{"text":{"field":"label"},"y":{"field":"price","type":"quantitative","axis":null,"scale":{"domain":[4039336,8256513],"nice":false,"zero":false}}}},
{"data":{"values":[{"date":"2021-10-08T21:58:00Z","price":7826876,"label":"6690497.0000"}]},"mark":{"type":"text","color":"#0b6b11","font":"Roboto","fontSize":25,"align":"left","baseline":"middle"},"encoding":{"text":{"field":"label"},"y":{"field":"price","type":"quantitative","axis":null,"scale":{"domain":[4039336,8256513],"nice":false,"zero":false}}}},
{"data":{"values":[{"date":"2021-10-17T18:14:00Z","price":7826876,"label":"6915861.0000"}]},"mark":{"type":"text","color":"#ff0000","font":"Roboto","fontSize":25,"align":"left","baseline":"middle"},"encoding":{"text":{"field":"label"},"y":{"field":"price","type":"quantitative","axis":null,"scale":{"domain":[4039336,8256513],"nice":false,"zero":false}}}},
{"data":{"values":[{"date":"2021-10-05T21:50:00Z","price":8205427}]},"mark":{"type":"point","filled":true,"shape":"circle","size":1100,"color":"#009688","opacity":0.22},"encoding":{"y":{"field":"price","type":"quantitative","axis":null,"scale":{"domain":[4039336,8256513],"nice":false,"zero":false}}}},
{"data":{"values":[{"date":"2021-10-05T21:50:00Z","price":8205427}]},"mark":{"type":"point","filled":true,"shape":"circle","size":200,"color":"#009688","opacity":1},"encoding":{"y":{"field":"price","type":"quantitative","axis":null,"scale":{"domain":[4039336,8256513],"nice":false,"zero":false}}}},
{"data":{"values":[{"date":"2021-09-17T05:46:00Z","end":"2021-09-20T04:34:00Z","top":7635818,"bottom":7533646}]},"mark":{"type":"bar","fill":"#191f2c","stroke":"#2f3542","strokeWidth":2,"cornerRadius":4},"encoding":{"x2":{"field":"end"},"y":{"field":"top","type":"quantitative","axis":null,"scale":{"domain":[4039336,8256513],"nice":false,"zero":false}},"y2":{"field":"bottom"}}},
{"data":{"values":[{"date":"2021-09-18T16:34:00Z","price":7584732}]},"mark":{"type":"point","shape":"M-1,0.5L0,-0.5L1,0.5","filled":false,"size":100,"stroke":"#c8c9cc","strokeWidth":2.5,"opacity":1},"encoding":{"y":{"field":"price","type":"quantitative","axis":null,"scale":{"domain":[4039336,8256513],"nice":false,"zero":false}}}},
{"data":{"values":[{"date":"2021-09-18T16:34:00Z","price":4154307}]},"mark":{"type":"point","filled":true,"shape":"circle","size":3217,"color":"#2c3140","opacity":1},"encoding":{"y":{"field":"price","type":"quantitative","axis":null,"scale":{"domain":[4039336,8256513],"nice":false,"zero":false}}}},
{"data":{"values":[{"date":"2021-09-18T16:34:00Z","price":4154307}]},"mark":{"type":"point","filled":true,"shape":"M-0.9,0.45C-1.05,0.1-0.75,-0.1-0.55,-0.05C-0.5,-0.45-0.1,-0.6,0.15,-0.3C0.5,-0.4,0.6,-0.1,0.6,-0.05C0.85,0,1.05,0.25,0.85,0.45Z","size":1900,"color":"#2d9cf0","opacity":1},"encoding":{"y":{"field":"price","type":"quantitative","axis":null,"scale":{"domain":[4039336,8256513],"nice":false,"zero":false}}}},
{"data":{"values":[{"date":"2021-09-18T16:34:00Z","price":4154307}]},"mark":{"type":"point","filled":false,"shape":"M-0.75,0.3L-0.25,-0.15L0.2,0.25L0.6,-0.1","size":1900,"stroke":"#2c3140","strokeWidth":3,"opacity":1},"encoding":{"y":{"field":"price","type":"quantitative","axis":null,"scale":{"domain":[4039336,8256513],"nice":false,"zero":false}}}},
{"data":{"values":[{"date":"2022-01-31T01:00:00Z","end":"2022-02-06T08:24:00Z","top":5856500,"bottom":5767000}]},"mark":{"type":"bar","color":"#009688"},"encoding":{"x2":{"field":"end"},"y":{"field":"top","type":"quantitative","axis":null,"scale":{"domain":[4039336,8256513],"nice":false,"zero":false}},"y2":{"field":"bottom"}}},
{"data":{"values":[{"date":"2022-01-31T07:12:00Z","end":"2022-01-31T13:26:00Z","price":5812596}]},"mark":{"type":"rule","color":"#e8f4f3","strokeWidth":2},"encoding":{"x2":{"field":"end"},"y":{"field":"price","type":"quantitative","axis":null,"scale":{"domain":[4039336,8256513],"nice":false,"zero":false}}}},
{"data":{"values":[{"date":"2022-01-31T23:17:00Z","price":5812596,"label":"5812596"}]},"mark":{"type":"text","color":"#e8f4f3","font":"Roboto","fontSize":22.5,"align":"left","baseline":"middle"},"encoding":{"text":{"field":"label"},"y":{"field":"price","type":"quantitative","axis":null,"scale":{"domain":[4039336,8256513],"nice":false,"zero":false}}}},
{"data":{"values":[{"date":"2022-01-31T02:10:00Z","end":"2022-02-06T08:24:00Z","price":4039336}]},"mark":{"type":"rule","color":"#363a45","strokeWidth":2},"encoding":{"x2":{"field":"end"},"y":{"field":"price","type":"quantitative","axis":null,"scale":{"domain":[4039336,8256513],"nice":false,"zero":false}}}},
{"data":{"values":[{"date":"2022-01-31T02:10:00Z","price":4039336,"bottomPrice":3903985}]},"mark":{"type":"rule","color":"#2a2f3c","strokeWidth":2},"encoding":{"y":{"field":"price","type":"quantitative","axis":null,"scale":{"domain":[4039336,8256513],"nice":false,"zero":false}},"y2":{"field":"bottomPrice"}}},
{"data":{"values":[{"date":"2022-02-03T07:12:00Z","price":3960000,"label":"☼"}]},"mark":{"type":"text","color":"#787b86","font":"DejaVu Sans","fontSize":38,"align":"center","baseline":"middle"},"encoding":{"text":{"field":"label"},"y":{"field":"price","type":"quantitative","axis":null,"scale":{"domain":[4039336,8256513],"nice":false,"zero":false}}}}
]}
]}
